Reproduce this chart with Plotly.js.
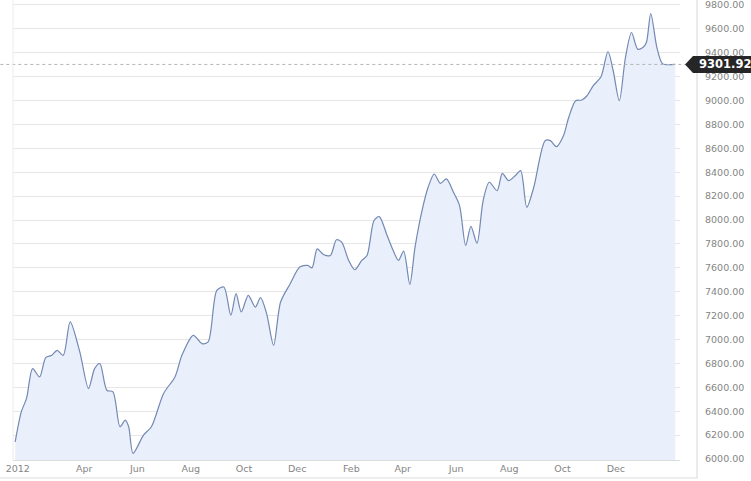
<!DOCTYPE html>
<html>
<head>
<meta charset="utf-8">
<script src="https://cdn.plot.ly/plotly-3.0.1.min.js"></script>
<style>
  html, body { margin: 0; padding: 0; background: #fff; }
  #graph { width: 751px; height: 481px; }
</style>
</head>
<body>
<div id="graph"></div>
<script>
// index level, roughly weekly turning points
const dates = [
  '2012-01-13', '2012-01-20', '2012-01-26', '2012-02-02', '2012-02-10', '2012-02-17', '2012-02-24',
  '2012-03-01', '2012-03-08', '2012-03-16', '2012-03-27', '2012-04-06', '2012-04-13', '2012-04-19',
  '2012-04-27', '2012-05-04', '2012-05-12', '2012-05-18', '2012-05-22', '2012-05-27', '2012-06-08',
  '2012-06-17', '2012-07-01', '2012-07-14', '2012-07-22', '2012-08-04', '2012-08-14', '2012-08-21',
  '2012-08-31', '2012-09-08', '2012-09-16', '2012-09-22', '2012-09-28', '2012-10-06', '2012-10-14',
  '2012-10-20', '2012-10-27', '2012-11-04', '2012-11-12', '2012-11-23', '2012-12-04', '2012-12-13',
  '2012-12-18', '2012-12-24', '2012-12-31', '2013-01-08', '2013-01-15', '2013-01-21', '2013-01-29',
  '2013-02-05', '2013-02-13', '2013-02-19', '2013-02-27', '2013-03-05', '2013-03-14', '2013-03-21',
  '2013-03-27', '2013-04-02', '2013-04-09', '2013-04-15', '2013-04-23', '2013-04-30', '2013-05-07',
  '2013-05-14', '2013-05-21', '2013-05-29', '2013-06-05', '2013-06-12', '2013-06-18', '2013-06-25',
  '2013-07-02', '2013-07-09', '2013-07-18', '2013-07-24', '2013-07-31', '2013-08-08', '2013-08-14',
  '2013-08-21', '2013-08-29', '2013-09-11', '2013-09-17', '2013-09-24', '2013-10-02', '2013-10-08',
  '2013-10-16', '2013-10-23', '2013-10-29', '2013-11-05', '2013-11-14', '2013-11-22', '2013-11-28',
  '2013-12-05', '2013-12-12', '2013-12-19', '2013-12-26', '2014-01-01', '2014-01-05', '2014-01-10',
  '2014-01-17', '2014-01-23', '2014-01-28', '2014-02-07'
]
const values = [
  6144, 6395, 6507, 6757, 6687, 6849, 6868,
  6910, 6868, 7147, 6896, 6590, 6757, 6799,
  6576, 6562, 6270, 6326, 6270, 6048, 6200,
  6270, 6549, 6687, 6868, 7035, 6966, 6980,
  7411, 7439, 7203, 7384, 7231, 7370, 7272,
  7350, 7217, 6952, 7314, 7467, 7606, 7620,
  7600, 7759, 7712, 7703, 7835, 7815, 7662,
  7584, 7662, 7703, 7996, 8029, 7871, 7745,
  7662, 7740, 7461, 7773, 8079, 8274, 8385,
  8307, 8344, 8232, 8121, 7787, 7946, 7806,
  8163, 8316, 8246, 8391, 8330, 8372, 8413,
  8107, 8274, 8664, 8664, 8614, 8706, 8858,
  8998, 9004, 9040, 9123, 9199, 9410, 9249,
  8998, 9360, 9569, 9430, 9444, 9486, 9728,
  9444, 9311, 9300, 9301.92
]
const lastValue = 9301.92

const tickDates = ['2012-01-16', '2012-04-01', '2012-06-01', '2012-08-01', '2012-10-01', '2012-12-01',
  '2013-02-01', '2013-04-01', '2013-06-01', '2013-08-01', '2013-10-01', '2013-12-01']
const tickLabels = ['2012', 'Apr', 'Jun', 'Aug', 'Oct', 'Dec', 'Feb', 'Apr', 'Jun', 'Aug', 'Oct', 'Dec']

const graph = document.getElementById('graph')

const trace = {
  x: dates,
  y: values,
  mode: 'lines',
  line: { color: '#7389b3', width: 1.2, shape: 'spline', smoothing: 0.8 },
  fill: 'tozeroy',
  fillcolor: '#e9effb',
  hoverinfo: 'skip'
}

const tickFont = { family: 'DejaVu Sans, sans-serif', size: 9.5, color: '#858585' }

const layout = {
  width: 751,
  height: 481,
  showlegend: false,
  paper_bgcolor: '#ffffff',
  plot_bgcolor: '#ffffff',
  margin: { t: 0, l: 13, r: 71, b: 21, pad: 0 },
  xaxis: {
    type: 'date',
    range: ['2012-01-10 12:00', '2014-02-12 12:00'],
    tickvals: tickDates,
    ticktext: tickLabels,
    tickfont: tickFont,
    showgrid: false,
    zeroline: false,
    showline: true,
    linecolor: '#dcdcdc',
    linewidth: 1,
    ticks: '',
    fixedrange: true
  },
  yaxis: {
    side: 'right',
    range: [5992, 9841],
    dtick: 200,
    tick0: 6000,
    tickformat: '.2f',
    tickfont: tickFont,
    ticklabelstandoff: 24,
    ticklabeloverflow: 'allow',
    gridcolor: '#e6e6e6',
    gridwidth: 1,
    zeroline: false,
    showline: false,
    ticks: '',
    fixedrange: true
  },
  shapes: [
    // last price guide
    { type: 'line', xref: 'paper', yref: 'y', x0: -0.019, x1: 1.008, y0: lastValue, y1: lastValue,
      line: { color: '#b4b4b4', width: 1, dash: 'dot' } },
    // separator between plot and price scale
    { type: 'line', xref: 'paper', yref: 'paper', x0: 1.0255, x1: 1.0255, y0: -0.04, y1: 1,
      line: { color: '#d6d6d6', width: 1 } },
    { type: 'line', xref: 'paper', yref: 'paper', x0: -0.02, x1: 1.0255, y0: -0.039, y1: -0.039,
      line: { color: '#dcdcdc', width: 1 } },
    { type: 'line', xref: 'paper', yref: 'paper', x0: 0, x1: 0, y0: 0, y1: 1,
      line: { color: '#ececec', width: 1 } },
    // price tag
    { type: 'path', xref: 'paper', yref: 'y', xsizemode: 'pixel', ysizemode: 'pixel',
      xanchor: 1, yanchor: lastValue,
      path: 'M 5 0 L 13 8.5 L 80 8.5 L 80 -8.5 L 13 -8.5 Z',
      fillcolor: '#262626', line: { width: 0 } }
  ],
  annotations: [
    { xref: 'paper', yref: 'y', x: 1, y: lastValue, xshift: 45, xanchor: 'center', yanchor: 'middle',
      text: '<b>' + lastValue.toFixed(2) + '</b>', showarrow: false,
      font: { family: 'DejaVu Sans, sans-serif', size: 11.5, color: '#ffffff' } }
  ]
}

const config = { displayModeBar: false, staticPlot: true }

Plotly.newPlot(graph, [trace], layout, config)
</script>
</body>
</html>
